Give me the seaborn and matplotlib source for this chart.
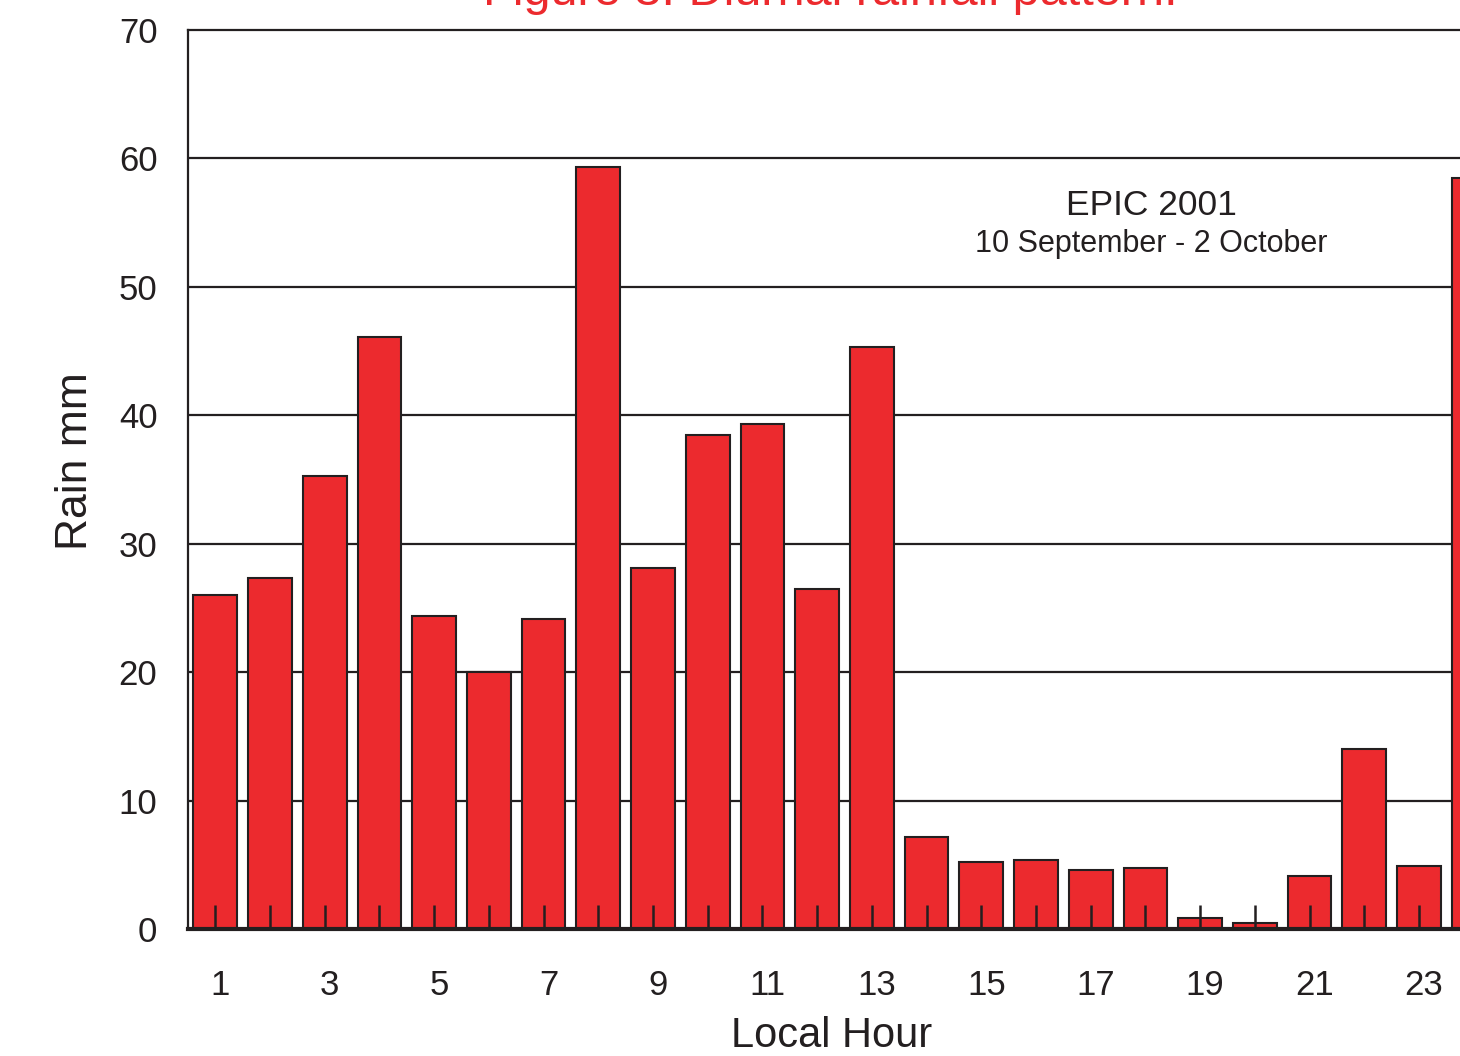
import matplotlib
matplotlib.use("Agg")
import matplotlib.pyplot as plt
import matplotlib.transforms as mtransforms
import seaborn as sns
import pandas as pd

hours = list(range(1, 25))
rain_mm = [26.0, 27.3, 35.3, 46.1, 24.4, 20.0, 24.1, 59.3, 28.1, 38.5, 39.3, 26.5,
           45.3, 7.2, 5.2, 5.4, 4.6, 4.75, 0.85, 0.5, 4.1, 14.0, 4.9, 58.5]
x_tick_labels = [str(h) if h % 2 == 1 else "" for h in hours]
y_ticks = [0, 10, 20, 30, 40, 50, 60, 70]
title_text = "Figure 3. Diurnal rainfall pattern."
note_line1 = "EPIC 2001"
note_line2 = "10 September - 2 October"

df = pd.DataFrame({"hour": hours, "rain": rain_mm})

sns.set_style("white")
plt.rcParams["font.family"] = ["Liberation Sans", "DejaVu Sans"]

fig = plt.figure(figsize=(14.6, 10.56), dpi=100)
ax = fig.add_axes([188 / 1460, 127 / 1056, 1313 / 1460, 899 / 1056])

sns.barplot(data=df, x="hour", y="rain", color="#EC2A2E", saturation=1,
            edgecolor="#231F20", linewidth=1.5, width=0.8, ax=ax, zorder=1)

ax.set_xlim(-0.5, 23.5)
ax.set_ylim(0, 70)
ax.hlines([v for v in y_ticks if 0 < v < 70], -0.5, 23.5, colors="#231F20",
          linewidth=1.6, zorder=0)
ax.set_axisbelow(False)

ax.set_yticks(y_ticks)
ax.set_yticklabels([str(v) for v in y_ticks])
ax.tick_params(axis="y", left=False, length=0, pad=22, labelsize=25,
               labelcolor="#231F20")

ax.set_xticks(range(24))
ax.set_xticklabels(x_tick_labels)
ax.tick_params(axis="x", bottom=True, direction="in", length=17, width=1.8,
               color="#231F20", pad=29, labelsize=25, labelcolor="#231F20")
offset = mtransforms.ScaledTranslation(5 / 100, 0, fig.dpi_scale_trans)
for lbl in ax.get_xticklabels():
    lbl.set_transform(lbl.get_transform() + offset)

for side in ["left", "top", "right"]:
    ax.spines[side].set_linewidth(1.6)
    ax.spines[side].set_color("#231F20")
ax.spines["bottom"].set_linewidth(3)
ax.spines["bottom"].set_color("#231F20")

ax.set_xlabel("Local Hour", fontsize=30, color="#231F20")
ax.set_ylabel("Rain mm", fontsize=32, color="#231F20")
ax.xaxis.set_label_coords(0.49, -0.097)
ax.yaxis.set_label_coords(-0.07, 0.52)

ax.text(0.734, 0.805, note_line1, transform=ax.transAxes, ha="center", va="center",
        fontsize=25.5, color="#231F20")
ax.text(0.734, 0.762, note_line2, transform=ax.transAxes, ha="center", va="center",
        fontsize=22, color="#231F20")

fig.text(0.569, 0.9953, title_text, ha="center", va="baseline", fontsize=35,
         color="#EC2A2E")

fig.savefig("out.png", dpi=100)
